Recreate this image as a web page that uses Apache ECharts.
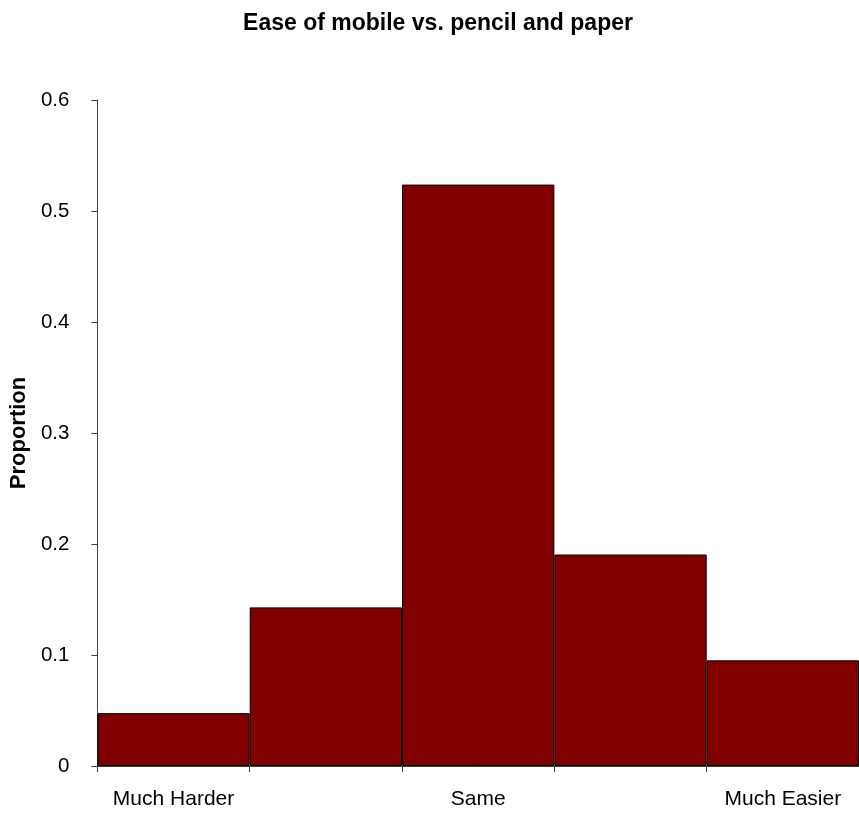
<!DOCTYPE html>
<html><head><meta charset="utf-8">
<script src="https://cdn.jsdelivr.net/npm/echarts@6/dist/echarts.min.js"></script>
<style>html,body{margin:0;padding:0;background:#fff}#c{width:859px;height:813px}</style>
</head><body><div id="c"></div>
<script>
var categories = ['Much Harder', '', 'Same', '', 'Much Easier'];
var values = [0.0476, 0.1429, 0.5238, 0.1905, 0.0952];
var yTicks = [0, 0.1, 0.2, 0.3, 0.4, 0.5, 0.6];
var title = 'Ease of mobile vs. pencil and paper';
var yName = 'Proportion';

var chart = echarts.init(document.getElementById('c'), null, {renderer: 'canvas'});
chart.setOption({
  animation: false,
  backgroundColor: '#fff',
  textStyle: {fontFamily: 'Liberation Sans, Arial, sans-serif'},
  title: {
    text: title, left: 433, top: 7, textAlign: 'center',
    textStyle: {fontSize: 23, fontWeight: 'bold', color: '#000', fontFamily: 'Liberation Sans, Arial, sans-serif'}
  },
  grid: {left: 96, top: 100, width: 765, height: 666, containLabel: false},
  xAxis: {
    type: 'category', data: categories,
    axisLine: {lineStyle: {color: '#404040', width: 1}},
    axisTick: {show: true, length: 6, lineStyle: {color: '#404040'}},
    axisLabel: {interval: 0, margin: 23, fontSize: 21, color: '#000'},
    splitLine: {show: false}
  },
  yAxis: {
    type: 'value', min: yTicks[0], max: yTicks[yTicks.length - 1], interval: 0.1,
    name: yName, nameLocation: 'middle', nameGap: 63, nameRotate: 90,
    nameTextStyle: {fontSize: 22, fontWeight: 'bold', color: '#000'},
    axisLine: {show: true, lineStyle: {color: '#404040', width: 1}},
    axisTick: {show: true, length: 6, inside: false, lineStyle: {color: '#404040'}},
    axisLabel: {margin: 28, fontSize: 20.5, color: '#000', formatter: function(v){return String(Math.round(v*10)/10);}},
    splitLine: {show: false}
  },
  series: [{
    type: 'bar', data: values, barCategoryGap: '0%',
    itemStyle: {color: '#800000', borderColor: '#000', borderWidth: 1}
  }]
});
</script></body></html>
